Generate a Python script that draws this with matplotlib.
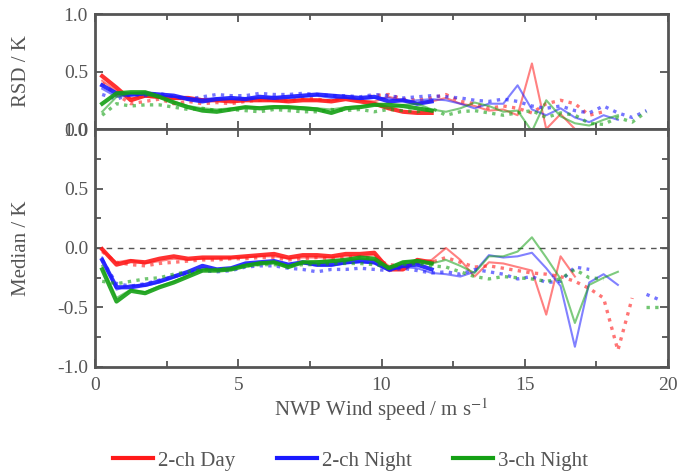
import numpy as np
import matplotlib
matplotlib.use('Agg')
import matplotlib.pyplot as plt
from matplotlib.ticker import MultipleLocator

plt.rcParams['font.family'] = ['Liberation Serif', 'DejaVu Serif']
plt.rcParams['mathtext.fontset'] = 'stix'
nan = np.nan

# wind speed bin centres (m/s)
x_thick = np.arange(0.25, 12.0, 0.5)   # 24 bins
x_thin = np.arange(0.25, 18.5, 0.5)    # 37 bins
x_dot = np.arange(0.25, 20.0, 0.5)     # 40 bins

# ---- RSD (top panel) ----
rsd_red_thick = [0.46, 0.36, 0.25, 0.29, 0.28, 0.27, 0.27, 0.25, 0.25, 0.24, 0.25, 0.25,
                 0.25, 0.24, 0.25, 0.25, 0.24, 0.26, 0.24, 0.22, 0.18, 0.15, 0.14, 0.14]
rsd_blue_thick = [0.38, 0.31, 0.30, 0.31, 0.30, 0.29, 0.26, 0.24, 0.26, 0.27, 0.26, 0.28,
                  0.27, 0.28, 0.29, 0.30, 0.29, 0.28, 0.27, 0.28, 0.24, 0.25, 0.22, 0.24]
rsd_green_thick = [0.22, 0.31, 0.32, 0.32, 0.28, 0.23, 0.19, 0.16, 0.15, 0.17, 0.19, 0.18,
                   0.19, 0.19, 0.18, 0.17, 0.14, 0.18, 0.19, 0.21, 0.21, 0.20, 0.18, 0.16]

rsd_red_thin = [0.42, 0.33, 0.27, 0.28, 0.27, 0.26, 0.26, 0.26, 0.25, 0.25, 0.26, 0.26,
                0.24, 0.25, 0.26, 0.25, 0.25, 0.27, 0.25, 0.24, 0.28, 0.25, 0.22, 0.24,
                0.27, 0.22, 0.20, 0.16, 0.17, 0.12, 0.57, 0.00, 0.13, 0.00, nan, nan, nan]
rsd_blue_thin = [0.35, 0.28, 0.29, 0.30, 0.29, 0.28, 0.27, 0.26, 0.27, 0.26, 0.27, 0.27,
                 0.28, 0.27, 0.28, 0.29, 0.27, 0.27, 0.26, 0.27, 0.27, 0.24, 0.25, 0.26,
                 0.25, 0.22, 0.18, 0.22, 0.22, 0.38, 0.17, 0.12, 0.18, 0.10, 0.06, 0.12, 0.08]
rsd_green_thin = [0.15, 0.28, 0.31, 0.30, 0.27, 0.24, 0.20, 0.18, 0.17, 0.18, 0.19, 0.19,
                  0.20, 0.19, 0.19, 0.18, 0.17, 0.19, 0.20, 0.21, 0.18, 0.21, 0.22, 0.17,
                  0.15, 0.18, 0.23, 0.20, 0.15, 0.16, -0.02, 0.25, 0.11, 0.05, 0.03, 0.08, 0.12]

rsd_red_dot = [0.40, 0.30, 0.22, 0.24, 0.26, 0.22, 0.24, 0.22, 0.23, 0.22, 0.24, 0.25,
               0.26, 0.24, 0.27, 0.26, 0.24, 0.28, 0.26, 0.29, 0.30, 0.26, 0.25, 0.27,
               0.30, 0.24, 0.22, 0.18, 0.20, 0.18, 0.14, 0.22, 0.25, 0.22, 0.12, 0.15,
               nan, nan, nan, nan]
rsd_blue_dot = [0.30, 0.26, 0.30, 0.29, 0.31, 0.28, 0.26, 0.28, 0.30, 0.29, 0.29, 0.31,
                0.30, 0.30, 0.31, 0.30, 0.29, 0.29, 0.28, 0.30, 0.29, 0.27, 0.28, 0.29,
                0.28, 0.27, 0.25, 0.24, 0.26, 0.24, 0.20, 0.18, 0.20, 0.16, 0.14, 0.20,
                0.14, 0.10, 0.16, nan]
rsd_green_dot = [0.12, 0.22, 0.20, 0.21, 0.21, 0.19, 0.17, 0.18, 0.16, 0.17, 0.16, 0.15,
                 0.17, 0.16, 0.15, 0.15, 0.17, 0.16, 0.17, 0.15, 0.17, 0.16, 0.15, 0.18,
                 0.12, 0.15, 0.16, 0.14, 0.12, 0.14, 0.16, 0.10, 0.14, 0.12, 0.05, 0.04,
                 0.10, 0.06, 0.15, nan]

# ---- Median (bottom panel) ----
med_red_thick = [-0.01, -0.14, -0.11, -0.12, -0.09, -0.07, -0.09, -0.08, -0.08, -0.08, -0.07, -0.06,
                 -0.05, -0.08, -0.06, -0.06, -0.07, -0.05, -0.05, -0.04, -0.18, -0.18, -0.10, -0.12]
med_blue_thick = [-0.10, -0.33, -0.33, -0.31, -0.28, -0.24, -0.20, -0.15, -0.18, -0.17, -0.13, -0.12,
                  -0.11, -0.14, -0.12, -0.14, -0.14, -0.12, -0.11, -0.12, -0.18, -0.15, -0.14, -0.18]
med_green_thick = [-0.18, -0.45, -0.36, -0.38, -0.33, -0.29, -0.24, -0.19, -0.19, -0.18, -0.15, -0.13,
                   -0.12, -0.16, -0.12, -0.12, -0.11, -0.10, -0.08, -0.09, -0.17, -0.12, -0.11, -0.13]

med_red_thin = [-0.02, -0.12, -0.10, -0.13, -0.11, -0.09, -0.10, -0.09, -0.09, -0.08, -0.08, -0.07,
                -0.07, -0.09, -0.08, -0.08, -0.08, -0.07, -0.07, -0.06, -0.15, -0.16, -0.12, -0.10,
                0.00, -0.10, -0.24, -0.12, -0.13, -0.16, -0.19, -0.56, -0.07, -0.24, nan, nan, nan]
med_blue_thin = [-0.08, -0.35, -0.31, -0.32, -0.29, -0.25, -0.21, -0.17, -0.18, -0.18, -0.14, -0.13,
                 -0.12, -0.15, -0.13, -0.15, -0.15, -0.13, -0.12, -0.13, -0.19, -0.16, -0.17, -0.21,
                 -0.22, -0.24, -0.20, -0.06, -0.08, -0.07, -0.04, -0.17, -0.32, -0.83, -0.29, -0.22, -0.31]
med_green_thin = [-0.15, -0.42, -0.35, -0.37, -0.32, -0.28, -0.23, -0.18, -0.18, -0.17, -0.14, -0.12,
                  -0.12, -0.15, -0.12, -0.11, -0.11, -0.10, -0.09, -0.10, -0.16, -0.12, -0.10, -0.13,
                  -0.10, -0.15, -0.21, -0.07, -0.07, -0.03, 0.09, -0.08, -0.26, -0.63, -0.31, -0.25, -0.20]

med_red_dot = [-0.03, -0.12, -0.14, -0.15, -0.13, -0.12, -0.11, -0.10, -0.10, -0.09, -0.09, -0.08,
               -0.08, -0.10, -0.09, -0.08, -0.09, -0.08, -0.07, -0.09, -0.14, -0.15, -0.13, -0.12,
               -0.08, -0.12, -0.16, -0.15, -0.17, -0.19, -0.21, -0.22, -0.24, -0.28, -0.34, -0.42,
               -0.86, -0.42, nan, nan]
med_blue_dot = [-0.10, -0.30, -0.32, -0.30, -0.27, -0.24, -0.21, -0.19, -0.20, -0.19, -0.16, -0.15,
                -0.15, -0.17, -0.18, -0.20, -0.18, -0.18, -0.17, -0.18, -0.19, -0.17, -0.19, -0.21,
                -0.20, -0.22, -0.18, -0.20, -0.22, -0.26, -0.24, -0.29, -0.28, -0.16, -0.18, nan,
                nan, nan, -0.39, -0.44]
med_green_dot = [-0.28, -0.30, -0.28, -0.26, -0.25, -0.22, -0.20, -0.18, -0.18, -0.17, -0.15, -0.14,
                 -0.14, -0.15, -0.14, -0.14, -0.13, -0.13, -0.13, -0.14, -0.16, -0.14, -0.13, -0.15,
                 -0.16, -0.20, -0.24, -0.26, -0.24, -0.25, -0.26, -0.28, -0.26, -0.18, -0.25, -0.26,
                 nan, nan, -0.50, -0.50]

red = '#ff1a1a'
blue = '#1a1aff'
green = '#14a014'
grey = '#555555'

fig = plt.figure(figsize=(6.85, 4.75), dpi=100)
ax1 = fig.add_axes([0.1387, 0.7284, 0.8365, 0.2421])
ax2 = fig.add_axes([0.1387, 0.2274, 0.8365, 0.5010])

dot_style = (0, (1, 1.6))


def draw(ax, thick, thin, dot, col):
    ax.plot(x_dot, dot, color=col, lw=2.4, ls=dot_style, alpha=0.6)
    ax.plot(x_thin, thin, color=col, lw=1.5, alpha=0.55)
    ax.plot(x_thick, thick, color=col, lw=3.0, alpha=0.9)


draw(ax1, rsd_red_thick, rsd_red_thin, rsd_red_dot, red)
draw(ax1, rsd_blue_thick, rsd_blue_thin, rsd_blue_dot, blue)
draw(ax1, rsd_green_thick, rsd_green_thin, rsd_green_dot, green)

ax2.axhline(0, color=grey, lw=1, ls=(0, (4, 4)))
draw(ax2, med_red_thick, med_red_thin, med_red_dot, red)
draw(ax2, med_blue_thick, med_blue_thin, med_blue_dot, blue)
draw(ax2, med_green_thick, med_green_thin, med_green_dot, green)

ax1.set_ylim(0, 1.0)
ax2.set_ylim(-1.0, 1.0)
for ax in (ax1, ax2):
    ax.set_xlim(0, 20)
    ax.xaxis.set_major_locator(MultipleLocator(5))
    ax.xaxis.set_minor_locator(MultipleLocator(2.5))
    for s in ax.spines.values():
        s.set_color(grey)
        s.set_linewidth(2)
    ax.tick_params(which='both', direction='in', top=True, right=True,
                   colors=grey, labelsize=14, width=1.3)
    ax.tick_params(which='major', length=6)
    ax.tick_params(which='minor', length=4)
    ax.tick_params(axis='x', pad=7)
    ax.tick_params(axis='y', pad=5)

ax1.set_yticks([0.0, 0.5, 1.0])
ax1.set_yticklabels(['0.0', '0.5', '1.0'])
ax1.tick_params(labelbottom=False)
ax2.yaxis.set_major_locator(MultipleLocator(0.5))
ax2.yaxis.set_minor_locator(MultipleLocator(0.25))
ax2.yaxis.set_major_formatter(lambda v, p: f'{v:.1f}')

ax1.set_ylabel('RSD / K', fontsize=15, color=grey)
ax2.set_ylabel('Median / K', fontsize=15, color=grey)
ax2.set_xlabel('NWP Wind speed / m s$^{-1}$', fontsize=15, color=grey, labelpad=2)
ax1.yaxis.set_label_coords(-0.112, 0.5)
ax2.yaxis.set_label_coords(-0.112, 0.5)

handles = [plt.Line2D([], [], color=c, lw=3) for c in (red, blue, green)]
fig.legend(handles, ['2-ch Day', '2-ch Night', '3-ch Night'], loc='center',
           bbox_to_anchor=(0.512, 0.03), ncol=3, frameon=False, fontsize=15,
           handlelength=1.9, handletextpad=0.25, columnspacing=2.0, labelcolor=grey)

fig.savefig('out.png', dpi=100)
